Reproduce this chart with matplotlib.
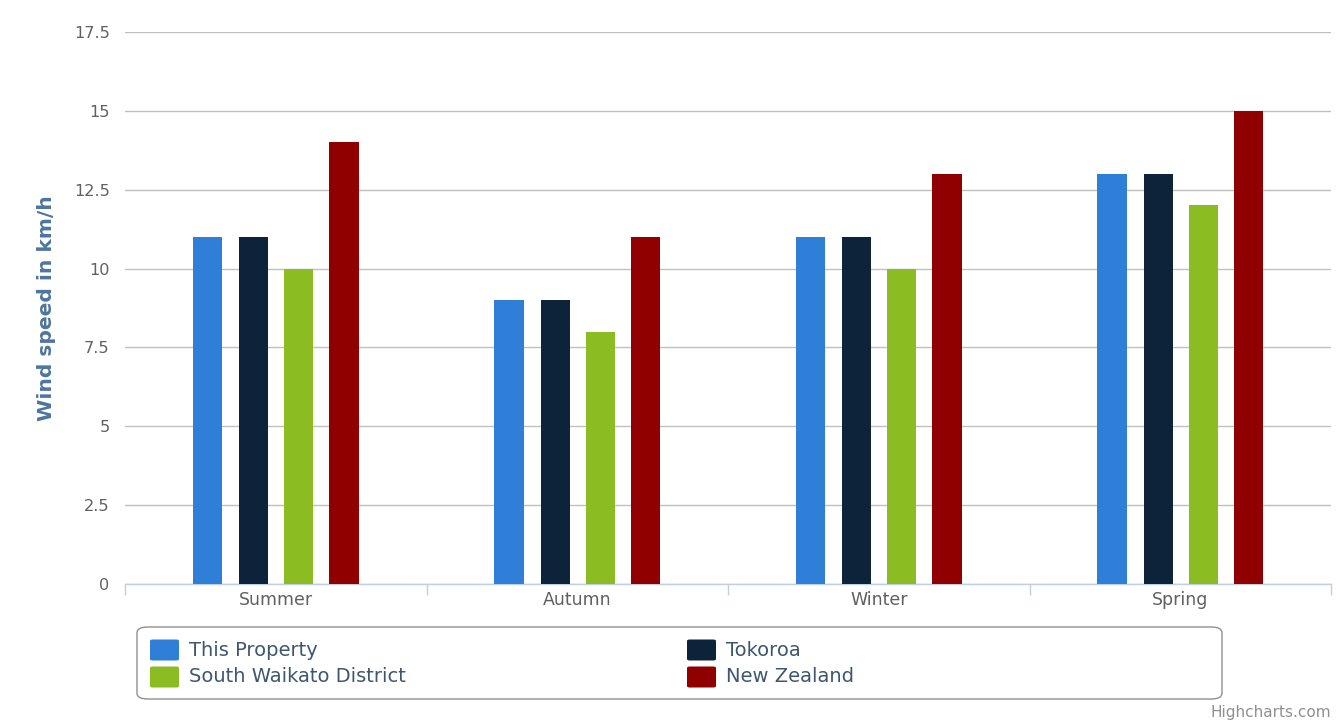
import numpy as np
import matplotlib.pyplot as plt
from matplotlib.patches import FancyBboxPatch

seasons = ['Summer', 'Autumn', 'Winter', 'Spring']
series_names = ['This Property', 'Tokoroa', 'South Waikato District', 'New Zealand']
this_property = [11, 9, 11, 13]
tokoroa = [11, 9, 11, 13]
south_waikato = [10, 8, 10, 12]
new_zealand = [14, 11, 13, 15]
colors = ['#2f7ed8', '#0d233a', '#8bbc21', '#910000']
y_ticks = [0, 2.5, 5, 7.5, 10, 12.5, 15, 17.5]
y_tick_labels = ['0', '2.5', '5', '7.5', '10', '12.5', '15', '17.5']

fig = plt.figure(figsize=(13.39, 7.2), dpi=100)
ax = fig.add_axes([125 / 1339, 136 / 720, 1206 / 1339, 552 / 720])

x = np.arange(len(seasons))
offsets = [-0.226, -0.073, 0.076, 0.226]
values = [this_property, tokoroa, south_waikato, new_zealand]
for vals, off, c, name in zip(values, offsets, colors, series_names):
    ax.bar(x + off, vals, width=0.097, color=c, label=name, zorder=3)

ax.set_xlim(-0.5, 3.5)
ax.set_ylim(0, 17.5)
ax.set_yticks(y_ticks)
ax.set_yticklabels(y_tick_labels)
ax.yaxis.grid(True, color='#c0c0c0', linewidth=1, zorder=0)
ax.tick_params(axis='y', length=0, pad=11, labelsize=11.6, labelcolor='#606060')

# category labels and boundary ticks
ax.set_xticks(x)
ax.set_xticklabels(seasons)
ax.tick_params(axis='x', length=0, pad=5, labelsize=12.5, labelcolor='#606060')
ax.set_xticks(np.arange(-0.5, 4.0, 1.0), minor=True)
ax.tick_params(axis='x', which='minor', length=8, width=1, color='#c0d0e0')

for s in ['top', 'right', 'left']:
    ax.spines[s].set_visible(False)
ax.spines['bottom'].set_color('#c0d0e0')
ax.spines['bottom'].set_linewidth(1)

fig.text(47 / 1339, 1 - 308 / 720, 'Wind speed in km/h', fontsize=14.6, fontweight='bold',
         color='#4d759e', rotation=90, ha='center', va='center')

# legend box
box = FancyBboxPatch((137 / 1339, 1 - 699 / 720), (1222 - 137) / 1339, 72 / 720,
                     boxstyle='round,pad=0,rounding_size=0.008', transform=fig.transFigure,
                     facecolor='white', edgecolor='#909090', linewidth=1)
fig.patches.append(box)
legend_pos = [(150, 650), (687, 650), (150, 677), (687, 677)]
for (px, py), c, name in zip(legend_pos, colors, series_names):
    fig.patches.append(FancyBboxPatch((px / 1339, 1 - (py + 10.5) / 720), 29 / 1339, 21 / 720,
                                      boxstyle='round,pad=0,rounding_size=0.002',
                                      transform=fig.transFigure, facecolor=c, edgecolor='none'))
    fig.text((px + 39) / 1339, 1 - py / 720, name, fontsize=14, color='#3e576f', va='center')

fig.text(1331 / 1339, 1 - 712 / 720, 'Highcharts.com', fontsize=11, color='#909090',
         ha='right', va='center')

fig.savefig('out.png', dpi=100)
